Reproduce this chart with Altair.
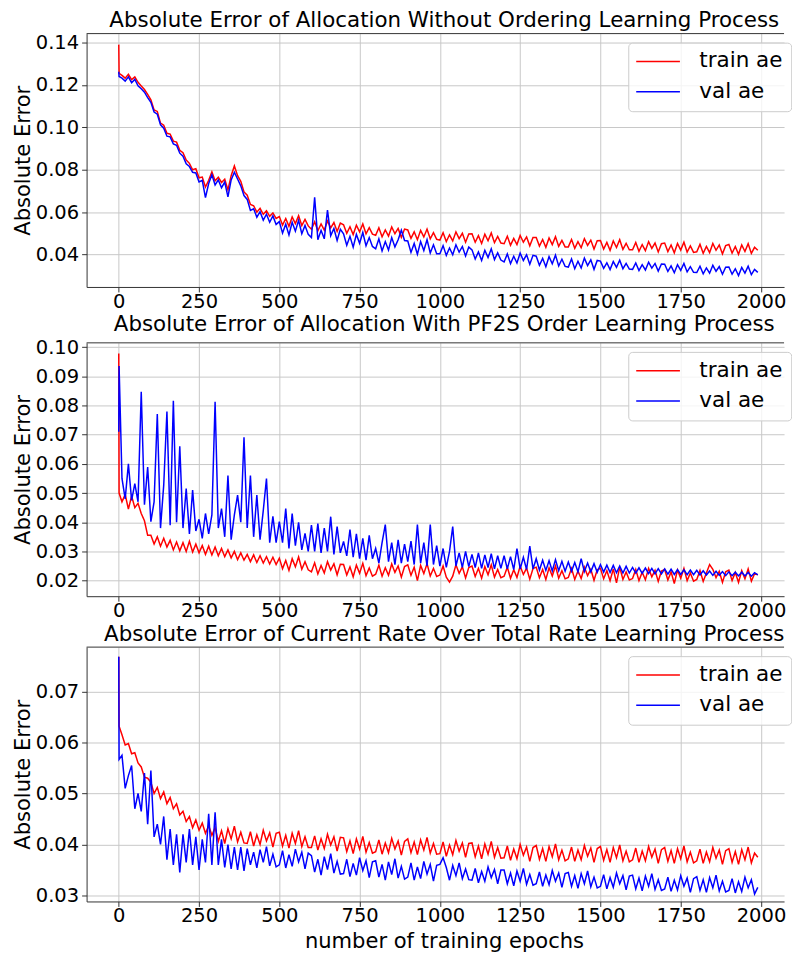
import altair as alt
import pandas as pd

# ---------------- data ----------------
EPOCHS = [0, 1] + list(range(10, 2000, 10))
SERIES = ["train ae", "val ae"]
COLORS = ["#ff0000", "#0000ff"]

TITLES = [
    "Absolute Error of Allocation Without Ordering Learning Process",
    "Absolute Error of Allocation With PF2S Order Learning Process",
    "Absolute Error of Current Rate Over Total Rate Learning Process",
]
X_TITLE = "number of training epochs"
Y_TITLE = "Absolute Error"
X_TICKS = [0, 250, 500, 750, 1000, 1250, 1500, 1750, 2000]
X_DOMAIN = [-100.2, 2071.8]

Y_TICKS_1 = [0.04, 0.06, 0.08, 0.10, 0.12, 0.14]
Y_TICKS_2 = [0.02, 0.03, 0.04, 0.05, 0.06, 0.07, 0.08, 0.09, 0.10]
Y_TICKS_3 = [0.03, 0.04, 0.05, 0.06, 0.07]
Y_DOMAIN_1 = [0.0247, 0.1442]
Y_DOMAIN_2 = [0.01466, 0.10146]
Y_DOMAIN_3 = [0.02883, 0.0787]

P1_TRAIN = [
    0.1390, 0.1255, 0.1245, 0.1232, 0.1250, 0.1225, 0.1238, 0.1212, 0.1195, 0.1178, 0.1155,
    0.1130, 0.1082, 0.1075, 0.1020, 0.1010, 0.0972, 0.0968, 0.0935, 0.0930, 0.0892,
    0.0880, 0.0846, 0.0830, 0.0800, 0.0805, 0.0762, 0.0765, 0.0718, 0.0750, 0.0790,
    0.0748, 0.0765, 0.0740, 0.0755, 0.0705, 0.0772, 0.0818, 0.0772, 0.0745, 0.0695,
    0.0680, 0.0636, 0.0630, 0.0600, 0.0618, 0.0590, 0.0606, 0.0580, 0.0596, 0.0570,
    0.0579, 0.0539, 0.0570, 0.0533, 0.0577, 0.0546, 0.0583, 0.0537, 0.0566, 0.0535,
    0.0519, 0.0554, 0.0512, 0.0544, 0.0515, 0.0558, 0.0526, 0.0551, 0.0509, 0.0548,
    0.0540, 0.0500, 0.0531, 0.0494, 0.0538, 0.0507, 0.0544, 0.0498, 0.0527, 0.0496,
    0.0491, 0.0526, 0.0484, 0.0516, 0.0487, 0.0530, 0.0498, 0.0523, 0.0481, 0.0520,
    0.0516, 0.0476, 0.0507, 0.0470, 0.0514, 0.0483, 0.0520, 0.0474, 0.0503, 0.0472,
    0.0468, 0.0503, 0.0461, 0.0493, 0.0464, 0.0507, 0.0475, 0.0500, 0.0458, 0.0497,
    0.0498, 0.0458, 0.0489, 0.0452, 0.0496, 0.0465, 0.0502, 0.0456, 0.0485, 0.0454,
    0.0451, 0.0486, 0.0444, 0.0476, 0.0447, 0.0490, 0.0458, 0.0483, 0.0441, 0.0480,
    0.0480, 0.0440, 0.0471, 0.0434, 0.0478, 0.0447, 0.0484, 0.0438, 0.0467, 0.0436,
    0.0436, 0.0471, 0.0429, 0.0461, 0.0432, 0.0475, 0.0443, 0.0468, 0.0426, 0.0465,
    0.0466, 0.0426, 0.0457, 0.0420, 0.0464, 0.0433, 0.0470, 0.0424, 0.0453, 0.0422,
    0.0422, 0.0457, 0.0415, 0.0447, 0.0418, 0.0461, 0.0429, 0.0454, 0.0412, 0.0451,
    0.0454, 0.0414, 0.0445, 0.0408, 0.0452, 0.0421, 0.0458, 0.0412, 0.0441, 0.0410,
    0.0413, 0.0448, 0.0406, 0.0438, 0.0409, 0.0452, 0.0420, 0.0445, 0.0403, 0.0442,
    0.0447, 0.0407, 0.0438, 0.0401, 0.0445, 0.0414, 0.0451, 0.0405, 0.0434, 0.0420,
]
P1_VAL = [
    0.1262, 0.1240, 0.1232, 0.1218, 0.1238, 0.1210, 0.1226, 0.1196, 0.1182, 0.1166, 0.1140,
    0.1118, 0.1072, 0.1062, 0.1012, 0.0996, 0.0958, 0.0955, 0.0922, 0.0915, 0.0878,
    0.0864, 0.0828, 0.0815, 0.0788, 0.0785, 0.0742, 0.0750, 0.0668, 0.0735, 0.0776,
    0.0728, 0.0752, 0.0715, 0.0742, 0.0672, 0.0752, 0.0788, 0.0756, 0.0724, 0.0678,
    0.0660, 0.0608, 0.0616, 0.0576, 0.0602, 0.0562, 0.0590, 0.0552, 0.0582, 0.0542,
    0.0555, 0.0501, 0.0543, 0.0492, 0.0552, 0.0510, 0.0561, 0.0498, 0.0537, 0.0495,
    0.0480, 0.0670, 0.0470, 0.0514, 0.0474, 0.0610, 0.0489, 0.0523, 0.0466, 0.0519,
    0.0498, 0.0444, 0.0486, 0.0435, 0.0495, 0.0453, 0.0504, 0.0441, 0.0480, 0.0438,
    0.0427, 0.0474, 0.0417, 0.0461, 0.0421, 0.0480, 0.0436, 0.0470, 0.0515, 0.0466,
    0.0464, 0.0410, 0.0452, 0.0401, 0.0461, 0.0419, 0.0470, 0.0407, 0.0446, 0.0404,
    0.0404, 0.0442, 0.0396, 0.0431, 0.0399, 0.0446, 0.0411, 0.0438, 0.0393, 0.0435,
    0.0422, 0.0379, 0.0412, 0.0372, 0.0420, 0.0386, 0.0427, 0.0376, 0.0408, 0.0374,
    0.0365, 0.0403, 0.0357, 0.0392, 0.0360, 0.0407, 0.0372, 0.0399, 0.0354, 0.0396,
    0.0392, 0.0349, 0.0382, 0.0342, 0.0390, 0.0356, 0.0397, 0.0346, 0.0378, 0.0344,
    0.0341, 0.0379, 0.0333, 0.0368, 0.0336, 0.0383, 0.0348, 0.0375, 0.0330, 0.0372,
    0.0369, 0.0335, 0.0361, 0.0329, 0.0367, 0.0340, 0.0373, 0.0333, 0.0358, 0.0331,
    0.0330, 0.0360, 0.0324, 0.0352, 0.0327, 0.0364, 0.0336, 0.0358, 0.0322, 0.0355,
    0.0354, 0.0320, 0.0346, 0.0314, 0.0352, 0.0325, 0.0358, 0.0318, 0.0343, 0.0316,
    0.0315, 0.0345, 0.0309, 0.0337, 0.0312, 0.0349, 0.0321, 0.0343, 0.0307, 0.0340,
    0.0341, 0.0307, 0.0333, 0.0301, 0.0339, 0.0312, 0.0345, 0.0305, 0.0330, 0.0316,
]
P2_TRAIN = [
    0.0978, 0.0500, 0.0470, 0.0495, 0.0445, 0.0490, 0.0450, 0.0465, 0.0430, 0.0405, 0.0355,
    0.0355, 0.0325, 0.0350, 0.0318, 0.0345, 0.0315, 0.0338, 0.0305, 0.0332, 0.0302,
    0.0330, 0.0300, 0.0335, 0.0298, 0.0325, 0.0295, 0.0320, 0.0290, 0.0318, 0.0288,
    0.0315, 0.0285, 0.0310, 0.0282, 0.0305, 0.0278, 0.0300, 0.0272, 0.0295, 0.0270,
    0.0290, 0.0265, 0.0288, 0.0262, 0.0285, 0.0260, 0.0282, 0.0257, 0.0280, 0.0255,
    0.0277, 0.0241, 0.0269, 0.0235, 0.0275, 0.0247, 0.0281, 0.0239, 0.0265, 0.0237,
    0.0230, 0.0261, 0.0223, 0.0252, 0.0226, 0.0265, 0.0236, 0.0258, 0.0220, 0.0256,
    0.0255, 0.0219, 0.0247, 0.0213, 0.0253, 0.0225, 0.0259, 0.0217, 0.0243, 0.0215,
    0.0222, 0.0253, 0.0215, 0.0244, 0.0218, 0.0257, 0.0228, 0.0250, 0.0212, 0.0248,
    0.0254, 0.0218, 0.0246, 0.0200, 0.0252, 0.0224, 0.0258, 0.0216, 0.0242, 0.0214,
    0.0219, 0.0250, 0.0212, 0.0195, 0.0215, 0.0254, 0.0225, 0.0247, 0.0209, 0.0245,
    0.0250, 0.0214, 0.0242, 0.0208, 0.0248, 0.0220, 0.0254, 0.0212, 0.0238, 0.0210,
    0.0215, 0.0246, 0.0208, 0.0237, 0.0211, 0.0250, 0.0221, 0.0243, 0.0205, 0.0241,
    0.0246, 0.0210, 0.0238, 0.0204, 0.0244, 0.0216, 0.0250, 0.0208, 0.0234, 0.0206,
    0.0211, 0.0242, 0.0204, 0.0233, 0.0207, 0.0246, 0.0217, 0.0239, 0.0201, 0.0237,
    0.0242, 0.0206, 0.0234, 0.0200, 0.0240, 0.0192, 0.0246, 0.0204, 0.0230, 0.0202,
    0.0207, 0.0238, 0.0200, 0.0229, 0.0203, 0.0242, 0.0213, 0.0235, 0.0197, 0.0233,
    0.0238, 0.0202, 0.0230, 0.0190, 0.0236, 0.0208, 0.0242, 0.0200, 0.0226, 0.0198,
    0.0204, 0.0235, 0.0197, 0.0226, 0.0255, 0.0239, 0.0210, 0.0232, 0.0194, 0.0230,
    0.0236, 0.0200, 0.0228, 0.0194, 0.0234, 0.0206, 0.0240, 0.0198, 0.0224, 0.0220,
]
P2_VAL = [
    0.0710, 0.0935, 0.0550, 0.0480, 0.0600, 0.0475, 0.0532, 0.0470, 0.0847, 0.0460, 0.0589,
    0.0402, 0.0470, 0.0771, 0.0380, 0.0527, 0.0779, 0.0390, 0.0816, 0.0400, 0.0660,
    0.0380, 0.0515, 0.0360, 0.0510, 0.0370, 0.0410, 0.0345, 0.0430, 0.0360, 0.0425,
    0.0813, 0.0380, 0.0447, 0.0350, 0.0560, 0.0340, 0.0425, 0.0493, 0.0400, 0.0691,
    0.0380, 0.0560, 0.0350, 0.0493, 0.0340, 0.0440, 0.0550, 0.0330, 0.0420, 0.0330,
    0.0402, 0.0330, 0.0447, 0.0310, 0.0430, 0.0320, 0.0400, 0.0305, 0.0362, 0.0300,
    0.0390, 0.0300, 0.0395, 0.0295, 0.0380, 0.0300, 0.0419, 0.0290, 0.0385, 0.0295,
    0.0334, 0.0285, 0.0375, 0.0280, 0.0360, 0.0275, 0.0345, 0.0270, 0.0355, 0.0275,
    0.0310, 0.0260, 0.0330, 0.0392, 0.0265, 0.0330, 0.0255, 0.0340, 0.0260, 0.0325,
    0.0265, 0.0335, 0.0255, 0.0392, 0.0260, 0.0330, 0.0250, 0.0392, 0.0255, 0.0320,
    0.0250, 0.0310, 0.0245, 0.0300, 0.0385, 0.0250, 0.0295, 0.0245, 0.0300, 0.0248,
    0.0290, 0.0245, 0.0295, 0.0242, 0.0288, 0.0245, 0.0292, 0.0240, 0.0285, 0.0242,
    0.0285, 0.0240, 0.0282, 0.0238, 0.0310, 0.0240, 0.0280, 0.0238, 0.0318, 0.0240,
    0.0275, 0.0236, 0.0270, 0.0235, 0.0268, 0.0233, 0.0272, 0.0234, 0.0266, 0.0232,
    0.0264, 0.0232, 0.0262, 0.0230, 0.0275, 0.0231, 0.0260, 0.0230, 0.0258, 0.0229,
    0.0255, 0.0229, 0.0253, 0.0228, 0.0252, 0.0227, 0.0250, 0.0226, 0.0249, 0.0226,
    0.0245, 0.0226, 0.0244, 0.0225, 0.0243, 0.0224, 0.0242, 0.0223, 0.0241, 0.0223,
    0.0240, 0.0222, 0.0239, 0.0221, 0.0238, 0.0221, 0.0237, 0.0220, 0.0236, 0.0220,
    0.0235, 0.0219, 0.0234, 0.0219, 0.0233, 0.0218, 0.0232, 0.0218, 0.0231, 0.0217,
    0.0230, 0.0217, 0.0229, 0.0216, 0.0229, 0.0216, 0.0228, 0.0215, 0.0227, 0.0220,
]
P3_TRAIN = [
    0.0768, 0.0632, 0.0615, 0.0595, 0.0598, 0.0578, 0.0580, 0.0560, 0.0552, 0.0532, 0.0530,
    0.0522, 0.0500, 0.0512, 0.0490, 0.0503, 0.0480, 0.0492, 0.0470, 0.0480, 0.0458,
    0.0465, 0.0445, 0.0455, 0.0433, 0.0448, 0.0428, 0.0442, 0.0422, 0.0437, 0.0418,
    0.0433, 0.0406, 0.0427, 0.0402, 0.0431, 0.0411, 0.0436, 0.0405, 0.0424, 0.0403,
    0.0402, 0.0425, 0.0397, 0.0419, 0.0400, 0.0428, 0.0407, 0.0423, 0.0395, 0.0422,
    0.0424, 0.0397, 0.0418, 0.0393, 0.0422, 0.0402, 0.0427, 0.0396, 0.0415, 0.0394,
    0.0394, 0.0417, 0.0389, 0.0411, 0.0392, 0.0420, 0.0399, 0.0415, 0.0387, 0.0414,
    0.0413, 0.0386, 0.0407, 0.0382, 0.0411, 0.0391, 0.0416, 0.0385, 0.0404, 0.0383,
    0.0386, 0.0409, 0.0381, 0.0403, 0.0384, 0.0412, 0.0391, 0.0407, 0.0379, 0.0406,
    0.0411, 0.0384, 0.0405, 0.0380, 0.0409, 0.0389, 0.0414, 0.0383, 0.0402, 0.0381,
    0.0382, 0.0405, 0.0377, 0.0399, 0.0380, 0.0408, 0.0387, 0.0403, 0.0375, 0.0402,
    0.0403, 0.0376, 0.0397, 0.0372, 0.0401, 0.0381, 0.0406, 0.0375, 0.0394, 0.0373,
    0.0374, 0.0397, 0.0369, 0.0391, 0.0372, 0.0400, 0.0379, 0.0395, 0.0367, 0.0394,
    0.0398, 0.0371, 0.0392, 0.0367, 0.0396, 0.0376, 0.0401, 0.0370, 0.0389, 0.0368,
    0.0372, 0.0395, 0.0367, 0.0389, 0.0370, 0.0398, 0.0377, 0.0393, 0.0365, 0.0392,
    0.0396, 0.0369, 0.0390, 0.0365, 0.0394, 0.0374, 0.0399, 0.0368, 0.0387, 0.0366,
    0.0370, 0.0393, 0.0365, 0.0387, 0.0368, 0.0396, 0.0375, 0.0391, 0.0363, 0.0390,
    0.0394, 0.0367, 0.0388, 0.0363, 0.0392, 0.0372, 0.0397, 0.0366, 0.0385, 0.0364,
    0.0368, 0.0391, 0.0363, 0.0385, 0.0366, 0.0394, 0.0373, 0.0389, 0.0361, 0.0388,
    0.0392, 0.0365, 0.0386, 0.0361, 0.0390, 0.0370, 0.0395, 0.0364, 0.0383, 0.0375,
]
P3_VAL = [
    0.0768, 0.0567, 0.0575, 0.0510, 0.0535, 0.0555, 0.0470, 0.0500, 0.0465, 0.0540, 0.0440,
    0.0545, 0.0415, 0.0440, 0.0400, 0.0455, 0.0370, 0.0430, 0.0360, 0.0420, 0.0345,
    0.0420, 0.0365, 0.0430, 0.0360, 0.0415, 0.0350, 0.0410, 0.0365, 0.0460, 0.0360,
    0.0463, 0.0360, 0.0410, 0.0355, 0.0400, 0.0352, 0.0395, 0.0350, 0.0395, 0.0348,
    0.0392, 0.0360, 0.0385, 0.0354, 0.0390, 0.0365, 0.0396, 0.0358, 0.0381, 0.0356,
    0.0360, 0.0388, 0.0354, 0.0380, 0.0357, 0.0391, 0.0366, 0.0385, 0.0352, 0.0383,
    0.0378, 0.0346, 0.0371, 0.0340, 0.0376, 0.0351, 0.0382, 0.0344, 0.0367, 0.0342,
    0.0343, 0.0371, 0.0337, 0.0363, 0.0340, 0.0374, 0.0349, 0.0368, 0.0335, 0.0366,
    0.0368, 0.0336, 0.0361, 0.0330, 0.0366, 0.0341, 0.0372, 0.0334, 0.0357, 0.0332,
    0.0336, 0.0364, 0.0330, 0.0356, 0.0333, 0.0367, 0.0342, 0.0361, 0.0328, 0.0359,
    0.0361, 0.0374, 0.0355, 0.0330, 0.0359, 0.0339, 0.0364, 0.0333, 0.0352, 0.0331,
    0.0330, 0.0353, 0.0325, 0.0347, 0.0328, 0.0356, 0.0335, 0.0351, 0.0323, 0.0350,
    0.0350, 0.0323, 0.0344, 0.0319, 0.0348, 0.0328, 0.0353, 0.0322, 0.0341, 0.0320,
    0.0323, 0.0346, 0.0318, 0.0340, 0.0321, 0.0349, 0.0328, 0.0344, 0.0316, 0.0343,
    0.0345, 0.0318, 0.0339, 0.0314, 0.0343, 0.0323, 0.0348, 0.0317, 0.0336, 0.0315,
    0.0318, 0.0341, 0.0313, 0.0335, 0.0316, 0.0344, 0.0323, 0.0339, 0.0311, 0.0338,
    0.0340, 0.0313, 0.0334, 0.0309, 0.0338, 0.0318, 0.0343, 0.0312, 0.0331, 0.0310,
    0.0313, 0.0336, 0.0308, 0.0330, 0.0311, 0.0339, 0.0318, 0.0334, 0.0306, 0.0333,
    0.0337, 0.0310, 0.0331, 0.0306, 0.0335, 0.0315, 0.0340, 0.0309, 0.0328, 0.0307,
    0.0310, 0.0333, 0.0305, 0.0327, 0.0308, 0.0336, 0.0315, 0.0331, 0.0303, 0.0316,
]

# ---------------- layout ----------------
FONT = "DejaVu Sans"
W = 702
SPINE = "#333333"


def make_panel(train, val, title, ydomain, yticks, height, xtitle=False):
    n = len(EPOCHS)
    df = pd.DataFrame({
        "epoch": EPOCHS + EPOCHS,
        "value": train + val,
        "series": [SERIES[0]] * n + [SERIES[1]] * n,
    })
    xscale = alt.Scale(domain=X_DOMAIN, nice=False, zero=False)
    if xtitle:
        x = alt.X("epoch:Q", title=X_TITLE, scale=xscale,
                  axis=alt.Axis(values=X_TICKS, format="d", titleX=359.7))
    else:
        x = alt.X("epoch:Q", title=None, scale=xscale,
                  axis=alt.Axis(values=X_TICKS, format="d"))
    y = alt.Y("value:Q", title=Y_TITLE,
              scale=alt.Scale(domain=ydomain, nice=False, zero=False),
              axis=alt.Axis(values=yticks, format=".2f"))
    color = alt.Color(
        "series:N",
        scale=alt.Scale(domain=SERIES, range=COLORS),
        legend=alt.Legend(
            title=None, orient="none", legendX=545.2, legendY=9.1,
            symbolType="M-2.2,0L2.2,0", symbolSize=400, symbolOffset=11,
            symbolStrokeWidth=1.5, labelOffset=30.5, rowPadding=8.5,
            labelFont=FONT, labelFontSize=21.6, labelColor="#000000",
            padding=8, fillColor="rgba(255,255,255,0.8)",
            strokeColor="#cccccc", cornerRadius=4,
        ),
    )
    lines = alt.Chart(df).mark_line(strokeWidth=1.5, clip=True).encode(
        x=x, y=y, color=color, order=alt.Order("epoch:Q")
    )
    top_spine = alt.Chart(alt.Data(values=[{"k": 1}])).mark_rule(
        color=SPINE, strokeWidth=1
    ).encode(x=alt.value(0), x2=alt.value(W), y=alt.value(0))
    return alt.layer(lines, top_spine).properties(
        width=W, height=height, title=alt.TitleParams(title)
    )


p1 = make_panel(P1_TRAIN, P1_VAL, TITLES[0], Y_DOMAIN_1, Y_TICKS_1, 255)
p2 = make_panel(P2_TRAIN, P2_VAL, TITLES[1], Y_DOMAIN_2, Y_TICKS_2, 255)
p3 = make_panel(P3_TRAIN, P3_VAL, TITLES[2], Y_DOMAIN_3, Y_TICKS_3, 256, xtitle=True)

chart = (
    alt.vconcat(p1, p2, p3, spacing=2.25)
    .resolve_scale(color="independent")
    .properties(padding={"left": 4.1, "top": -2.3, "right": 0, "bottom": 0}, background="white")
    .configure_view(strokeWidth=0)
    .configure_axis(
        labelFont=FONT, titleFont=FONT, labelFontSize=19.6, titleFontSize=21.2,
        labelColor="#000000", titleColor="#000000", titleFontWeight="normal",
        domainColor=SPINE, tickColor=SPINE, domainWidth=1, tickWidth=1, tickSize=5,
        gridColor="#c8c8c8", gridWidth=1, grid=True,
    )
    .configure_axisY(labelPadding=3, titlePadding=2)
    .configure_axisX(labelPadding=0.5, titlePadding=5)
    .configure_title(
        font=FONT, fontSize=21.5, fontWeight="normal", color="#000000",
        anchor="middle", frame="group", baseline="alphabetic", offset=1.6, dx=9,
    )
)

chart.save("out.html", embed_options={"renderer": "svg", "actions": False})
